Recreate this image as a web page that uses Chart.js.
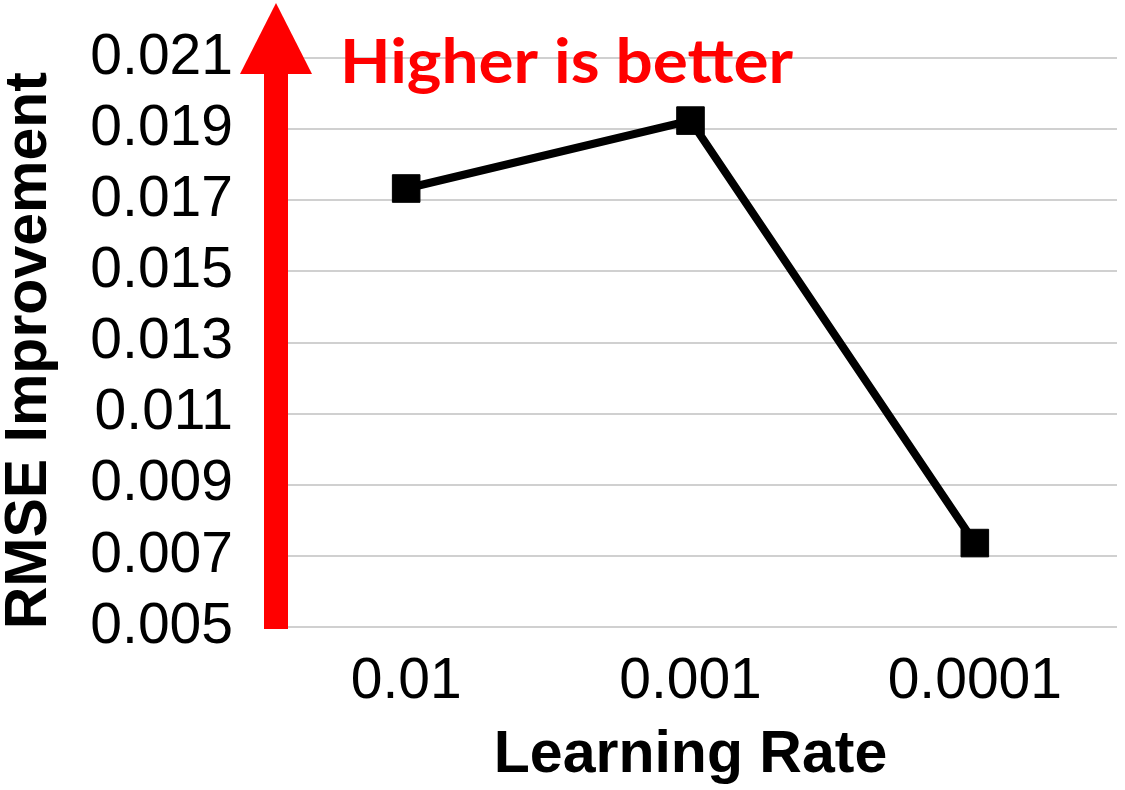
<!DOCTYPE html>
<html>
<head>
<meta charset="utf-8">
<script src="https://cdn.jsdelivr.net/npm/chart.js@4/dist/chart.umd.min.js"></script>
<style>
  html, body { margin: 0; padding: 0; background: #fff; }
  #wrap { width: 1125px; height: 790px; }
</style>
</head>
<body>
<div id="wrap"><canvas id="chart" width="1125" height="790"></canvas></div>
<script>
// chart data
const learningRates = ['0.01', '0.001', '0.0001'];
const rmseImprovement = [0.01733, 0.01924, 0.00736];
const yTicks = [0.005, 0.007, 0.009, 0.011, 0.013, 0.015, 0.017, 0.019, 0.021];

const tickFont = { family: '"Liberation Sans", Arial, sans-serif', size: 57 };
const titleFont = { family: '"Liberation Sans", Arial, sans-serif', size: 59, weight: 'bold', lineHeight: 1 };

// red "higher is better" arrow + label, drawn over the grid
const arrowPlugin = {
    id: 'arrow',
    afterDraw(chart) {
        const ctx = chart.ctx;
        const area = chart.chartArea;
        const y = chart.scales.y;
        const left = area.left;
        const bottom = y.getPixelForValue(yTicks[0]) + 2;

        ctx.save();
        ctx.fillStyle = '#ff0000';
        // shaft
        ctx.fillRect(left, area.top + 15, 24, bottom - area.top - 15);
        // head
        ctx.beginPath();
        ctx.moveTo(left - 24, area.top + 16);
        ctx.lineTo(left + 48, area.top + 16);
        ctx.lineTo(left + 12, area.top - 55);
        ctx.closePath();
        ctx.fill();

        // label
        const text = 'Higher is better';
        ctx.font = 'bold 62px Lato, "Open Sans", sans-serif';
        const w = ctx.measureText(text).width;
        ctx.textBaseline = 'alphabetic';
        ctx.translate(left + 76, area.top + 25);
        ctx.scale(453 / w, 1);
        ctx.fillText(text, 0, 0);
        ctx.restore();
    }
};

function initChart() {
    const ctx = document.getElementById('chart').getContext('2d');
    new Chart(ctx, {
        type: 'line',
        data: {
            labels: learningRates,
            datasets: [{
                data: rmseImprovement,
                borderColor: '#000',
                backgroundColor: '#000',
                borderWidth: 8,
                pointStyle: 'rect',
                pointRadius: 19.5,
                pointBorderWidth: 1,
                pointBorderColor: '#000',
                pointBackgroundColor: '#000',
                tension: 0,
                clip: false
            }]
        },
        options: {
            responsive: false,
            animation: false,
            devicePixelRatio: 1,
            layout: { autoPadding: false, padding: { top: 58, right: 8, left: 0, bottom: 0 } },
            plugins: {
                legend: { display: false },
                tooltip: { enabled: false }
            },
            scales: {
                x: {
                    offset: true,
                    grid: { display: false },
                    border: { display: false },
                    ticks: { color: '#000', font: tickFont, padding: 13, autoSkip: false, maxRotation: 0 },
                    title: {
                        display: true,
                        text: 'Learning Rate',
                        color: '#000',
                        font: titleFont,
                        padding: { top: 0, bottom: 5 }
                    },
                    afterFit: scale => {
                        scale.height = 163;
                        scale.paddingLeft = 0;
                        scale.paddingRight = 0;
                    }
                },
                y: {
                    min: 0.005,
                    max: 0.021,
                    afterBuildTicks: scale => {
                        scale.ticks = yTicks.map(v => ({ value: v }));
                    },
                    grid: { color: '#d0d0d0', lineWidth: 2, drawTicks: false },
                    border: { display: false },
                    ticks: {
                        color: '#000',
                        font: tickFont,
                        padding: 31,
                        autoSkip: false,
                        callback: v => v.toFixed(3)
                    },
                    title: {
                        display: true,
                        text: 'RMSE Improvement ',
                        color: '#000',
                        font: titleFont,
                        padding: { top: 0, bottom: 0 }
                    },
                    afterFit: scale => {
                        scale.width = 264;
                        scale.paddingTop = 0;
                        scale.paddingBottom = 0;
                    }
                }
            }
        },
        plugins: [arrowPlugin]
    });
}

document.addEventListener('DOMContentLoaded', initChart);
</script>
</body>
</html>
